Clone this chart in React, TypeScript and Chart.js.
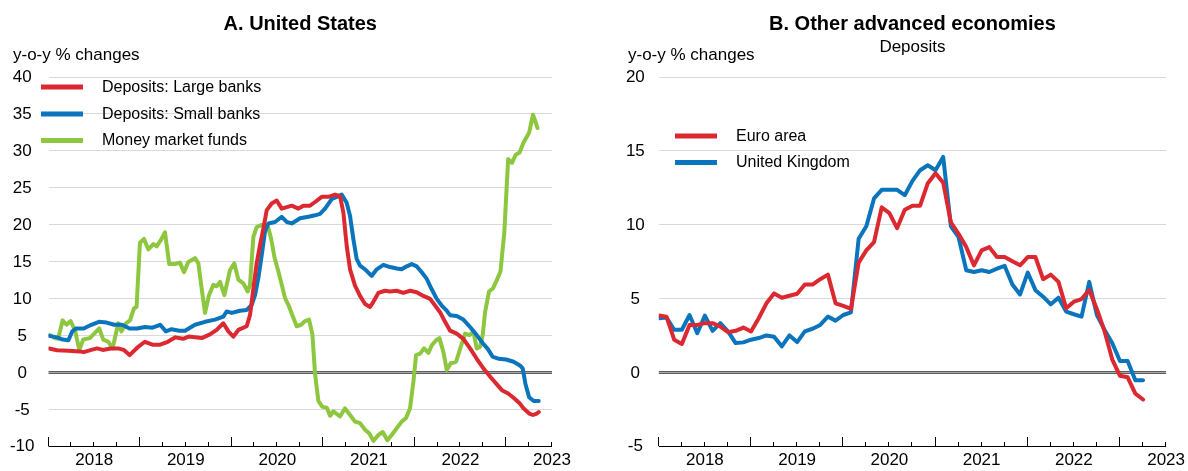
import React, { useEffect, useRef } from 'react';
import { Chart, registerables } from 'chart.js';

Chart.register(...registerables);

const FONT = "'Liberation Sans', Arial, Helvetica, sans-serif";
const RED = '#dc2830';
const BLUE = '#0a74bc';
const GREEN = '#8dc63f';

// ---------- Axis labels ----------
const yearLabels = ['2018', '2019', '2020', '2021', '2022', '2023'];
const yTicksA = [-10, -5, 0, 5, 10, 15, 20, 25, 30, 35, 40];
const yTicksB = [-5, 0, 5, 10, 15, 20];

// ---------- Panel A: United States (decimal-year dates, y-o-y %) ----------
const largeBanksT = [
  2018.008, 2018.092, 2018.217, 2018.343, 2018.384, 2018.468, 2018.53, 2018.593, 2018.677, 2018.76,
  2018.823, 2018.886, 2018.969, 2019.053, 2019.136, 2019.22, 2019.303, 2019.387, 2019.47, 2019.53,
  2019.6, 2019.673, 2019.764, 2019.837, 2019.91, 2019.965, 2020.019, 2020.074, 2020.165, 2020.201,
  2020.238, 2020.274, 2020.311, 2020.347, 2020.384, 2020.438, 2020.493, 2020.548, 2020.602, 2020.657,
  2020.73, 2020.784, 2020.857, 2020.912, 2020.985, 2021.058, 2021.13, 2021.184, 2021.221, 2021.257,
  2021.294, 2021.348, 2021.403, 2021.458, 2021.512, 2021.549, 2021.603, 2021.676, 2021.731, 2021.804,
  2021.876, 2021.949, 2022.022, 2022.095, 2022.168, 2022.223, 2022.277, 2022.332, 2022.387, 2022.459,
  2022.532, 2022.605, 2022.678, 2022.751, 2022.83, 2022.9, 2022.958, 2023.021, 2023.083, 2023.146,
  2023.188, 2023.251, 2023.292, 2023.334, 2023.355,
];
const largeBanksV = [
  3.3, 3.05, 3.0, 2.9, 2.8, 3.1, 3.3, 3.1, 3.3, 3.3,
  3.1, 2.4, 3.4, 4.2, 3.8, 3.8, 4.2, 4.8, 4.6, 4.9,
  4.8, 4.7, 5.2, 5.8, 6.7, 5.6, 4.9, 5.8, 6.3, 7.8,
  11.4, 14.8, 17.3, 19.5, 22.0, 22.9, 23.3, 22.2, 22.4, 22.6,
  22.2, 22.6, 22.6, 23.1, 23.8, 23.8, 24.1, 23.9, 21.7, 17.2,
  14.0, 11.8, 10.4, 9.3, 8.9, 9.6, 10.8, 11.1, 11.0, 11.1,
  10.8, 11.1, 10.9, 10.4, 10.0, 9.1, 8.2, 6.9, 5.7, 5.3,
  4.6, 3.3, 1.9, 0.6, -0.6, -1.6, -2.4, -2.8, -3.4, -4.1,
  -4.8, -5.5, -5.7, -5.5, -5.3,
];

const smallBanksT = [
  2018.008, 2018.092, 2018.155, 2018.217, 2018.259, 2018.301, 2018.384, 2018.468, 2018.551, 2018.635,
  2018.718, 2018.802, 2018.886, 2018.969, 2019.053, 2019.136, 2019.22, 2019.282, 2019.345, 2019.429,
  2019.491, 2019.6, 2019.71, 2019.819, 2019.91, 2019.946, 2020.001, 2020.092, 2020.165, 2020.22,
  2020.256, 2020.292, 2020.329, 2020.365, 2020.402, 2020.475, 2020.548, 2020.602, 2020.657, 2020.748,
  2020.839, 2020.912, 2020.966, 2021.021, 2021.094, 2021.13, 2021.203, 2021.257, 2021.294, 2021.33,
  2021.366, 2021.403, 2021.458, 2021.53, 2021.585, 2021.658, 2021.731, 2021.804, 2021.858, 2021.913,
  2021.968, 2022.022, 2022.077, 2022.132, 2022.186, 2022.241, 2022.295, 2022.35, 2022.387, 2022.459,
  2022.532, 2022.605, 2022.678, 2022.751, 2022.8, 2022.85, 2022.92, 2023.0, 2023.08, 2023.15,
  2023.18, 2023.21, 2023.25, 2023.3, 2023.355,
];
const smallBanksV = [
  5.0, 4.8, 4.5, 4.4, 5.6, 6.0, 6.0, 6.5, 6.9, 6.8,
  6.5, 6.5, 6.0, 6.0, 6.2, 6.1, 6.5, 5.6, 5.9, 5.7,
  5.7, 6.5, 6.9, 7.2, 7.6, 8.3, 8.1, 8.4, 8.5, 9.2,
  10.5, 12.8, 15.9, 19.1, 20.2, 20.4, 21.1, 20.4, 20.2, 20.9,
  21.1, 21.3, 21.5, 22.2, 23.5, 23.7, 24.1, 23.0, 21.2, 18.1,
  15.4, 14.5, 14.0, 13.1, 14.0, 14.6, 14.3, 14.1, 14.0, 14.4,
  14.7, 14.4, 13.6, 12.7, 11.3, 10.0, 9.1, 8.4, 7.8, 7.7,
  7.2, 6.2, 5.1, 3.9, 3.2, 2.2, 1.9, 1.8, 1.5, 1.0,
  0.6, -1.5, -3.3, -3.8, -3.8,
];

const mmfT = [
  2018.015, 2018.07, 2018.106, 2018.154, 2018.197, 2018.241, 2018.289, 2018.336, 2018.38, 2018.452,
  2018.507, 2018.554, 2018.598, 2018.653, 2018.7, 2018.762, 2018.798, 2018.846, 2018.89, 2018.933,
  2018.962, 2018.999, 2019.043, 2019.09, 2019.145, 2019.181, 2019.225, 2019.272, 2019.319, 2019.381,
  2019.436, 2019.48, 2019.527, 2019.6, 2019.637, 2019.673, 2019.71, 2019.753, 2019.801, 2019.837,
  2019.874, 2019.921, 2019.983, 2020.03, 2020.074, 2020.129, 2020.176, 2020.201, 2020.238, 2020.274,
  2020.329, 2020.394, 2020.431, 2020.467, 2020.511, 2020.548, 2020.584, 2020.62, 2020.664, 2020.711,
  2020.759, 2020.803, 2020.846, 2020.883, 2020.912, 2020.948, 2020.992, 2021.039, 2021.076, 2021.112,
  2021.184, 2021.239, 2021.294, 2021.348, 2021.403, 2021.458, 2021.505, 2021.549, 2021.603, 2021.651,
  2021.702, 2021.749, 2021.804, 2021.858, 2021.906, 2021.949, 2021.986, 2022.015, 2022.059, 2022.102,
  2022.15, 2022.186, 2022.233, 2022.27, 2022.314, 2022.35, 2022.394, 2022.452, 2022.503, 2022.551,
  2022.598, 2022.642, 2022.678, 2022.714, 2022.743, 2022.769, 2022.812, 2022.854, 2022.896, 2022.937,
  2022.979, 2023.021, 2023.063, 2023.104, 2023.146, 2023.188, 2023.251, 2023.292, 2023.313, 2023.342,
];
const mmfV = [
  5.1, 4.7, 4.6, 7.1, 6.5, 7.0, 5.8, 3.1, 4.5, 4.7,
  5.4, 6.0, 4.5, 4.2, 3.3, 6.7, 5.6, 6.7, 7.1, 8.7,
  8.9, 17.6, 18.1, 16.7, 17.4, 17.1, 17.9, 19.0, 14.7, 14.7,
  14.9, 13.6, 15.0, 15.5, 14.8, 11.4, 8.1, 10.5, 11.9, 11.7,
  12.3, 10.5, 13.9, 14.8, 12.6, 12.1, 11.0, 11.9, 18.4, 19.7,
  20.0, 19.9, 18.2, 15.7, 13.7, 11.9, 10.1, 9.2, 7.8, 6.3,
  6.5, 7.0, 7.2, 5.2, -0.2, -3.8, -4.6, -4.7, -5.8, -5.2,
  -5.9, -4.8, -5.7, -6.6, -6.8, -7.7, -8.2, -9.2, -8.4, -8.0,
  -9.1, -8.4, -7.5, -6.6, -6.1, -4.8, -1.2, 2.4, 2.6, 3.3,
  2.7, 3.7, 4.4, 4.7, 2.8, 0.4, 1.3, 1.5, 3.5, 5.3,
  5.1, 5.5, 3.3, 3.5, 5.1, 8.2, 11.0, 11.4, 12.5, 13.7,
  19.0, 28.9, 28.4, 29.5, 29.8, 31.1, 32.5, 34.9, 34.2, 33.1,
];

// ---------- Panel B: Other advanced economies (monthly, Jan 2018 onwards) ----------
const euroArea = [
  3.87, 3.8, 2.24, 1.95, 3.24, 3.24, 3.36, 3.36, 3.13, 2.75, 2.84, 3.06,
  2.8, 3.69, 4.7, 5.37, 5.08, 5.21, 5.35, 5.97, 5.97, 6.33, 6.64, 4.7,
  4.52, 4.32, 7.45, 8.28, 8.84, 11.19, 10.8, 9.78, 11.03, 11.3, 11.3, 12.82,
  13.49, 12.86, 10.18, 9.4, 8.5, 7.27, 8.28, 8.5, 7.83, 7.83, 7.54, 7.27,
  7.83, 7.83, 6.33, 6.64, 6.15, 4.36, 4.81, 4.99, 5.6, 4.3, 2.8, 0.9,
  -0.2, -0.3, -1.4, -1.8,
];
const unitedKingdom = [
  3.69, 3.74, 2.91, 2.91, 3.91, 2.68, 3.87, 2.84, 3.36, 2.8, 2.01, 2.06,
  2.24, 2.35, 2.53, 2.44, 1.79, 2.53, 2.08, 2.8, 2.98, 3.24, 3.8, 3.53,
  3.91, 4.09, 9.06, 9.91, 11.79, 12.37, 12.37, 12.37, 12.01, 12.98, 13.7, 14.03,
  13.7, 14.6, 9.91, 9.17, 6.94, 6.82, 6.94, 6.82, 7.05, 7.23, 5.97, 5.3,
  6.78, 5.59, 5.15, 4.63, 5.08, 4.14, 3.96, 3.8, 6.15, 3.9, 2.9, 2.0,
  0.8, 0.8, -0.5, -0.5,
];

// quarterly tick positions from the year labels
const quarterTicks: number[] = [];
yearLabels.forEach((y) => {
  const yr = Number(y);
  [0, 0.25, 0.5, 0.75].forEach((q) => {
    if (yr + q <= 2023.5) quarterTicks.push(yr + q);
  });
});

const zip = (t: number[], v: number[]) => t.map((x, i) => ({ x, y: v[i] }));
const monthly = (v: number[]) => v.map((y, i) => ({ x: 2018 + i / 12, y }));

type Spec = {
  width: number;
  areaLeft: number;
  areaRight: number;
  yMin: number;
  yMax: number;
  yTicks: number[];
  title: string;
  subtitle?: string;
  unitX: number;
  legendX0: number;
  legendY: number[];
  datasets: any[];
};

function makeOverlay(spec: Spec) {
  return {
    id: 'overlay',
    beforeDatasetsDraw(chart: any) {
      const { ctx, chartArea: a, scales } = chart;
      const y0 = Math.round(scales.y.getPixelForValue(0));
      ctx.save();
      ctx.fillStyle = '#5e5e5e';
      ctx.fillRect(a.left, y0 - 2, a.right - a.left, 1);
      ctx.fillStyle = '#a8a8a8';
      ctx.fillRect(a.left, y0 - 1, a.right - a.left, 1);
      ctx.fillStyle = '#5e5e5e';
      ctx.fillRect(a.left, y0, a.right - a.left, 1);
      ctx.restore();
    },
    afterDraw(chart: any) {
      const { ctx, chartArea: a, scales } = chart;
      const xs = scales.x;
      ctx.save();
      // x axis line and inward ticks
      const by = Math.round(a.bottom);
      ctx.fillStyle = '#000';
      ctx.fillRect(a.left, by - 1, a.right - a.left, 1);
      xs.ticks.forEach((t: any) => {
        const px = Math.round(xs.getPixelForValue(t.value));
        const major = Math.abs(t.value - Math.round(t.value)) < 1e-6;
        const len = major ? 9 : 4;
        ctx.fillRect(px - 1, by - 1 - len, 1, len);
      });
      // titles
      const cx = (a.left + a.right) / 2;
      ctx.fillStyle = '#000';
      ctx.textAlign = 'center';
      ctx.textBaseline = 'alphabetic';
      ctx.font = `bold 20px ${FONT}`;
      ctx.fillText(spec.title, cx, 29.5);
      if (spec.subtitle) {
        ctx.font = `17px ${FONT}`;
        ctx.fillText(spec.subtitle, cx, 51.5);
      }
      ctx.textAlign = 'left';
      ctx.font = `17px ${FONT}`;
      ctx.fillText('y-o-y % changes', spec.unitX, 59.5);
      // legend
      ctx.font = `16px ${FONT}`;
      ctx.textBaseline = 'middle';
      chart.data.datasets.forEach((ds: any, i: number) => {
        const ly = spec.legendY[i];
        ctx.fillStyle = ds.borderColor;
        ctx.fillRect(spec.legendX0, ly - 2.5, 42, 5);
        ctx.fillStyle = '#000';
        ctx.fillText(ds.label, spec.legendX0 + 61, ly + 0.5);
      });
      ctx.restore();
    },
  };
}

function buildConfig(spec: Spec): any {
  return {
    type: 'line',
    data: { datasets: spec.datasets },
    plugins: [makeOverlay(spec)],
    options: {
      responsive: false,
      animation: false,
      devicePixelRatio: 1,
      layout: { padding: { top: 77, left: 0, right: spec.width - spec.areaRight, bottom: 0 } },
      elements: {
        point: { radius: 0 },
        line: { borderWidth: 4, tension: 0, borderJoinStyle: 'round', borderCapStyle: 'round' },
      },
      plugins: { legend: { display: false }, tooltip: { enabled: false }, title: { display: false } },
      scales: {
        x: {
          type: 'linear',
          min: 2018,
          max: 2023.5,
          afterBuildTicks: (s: any) => {
            s.ticks = quarterTicks.map((v) => ({ value: v }));
          },
          afterFit: (s: any) => {
            s.height = 21.5;
          },
          grid: { display: false, drawTicks: false },
          border: { display: false },
          ticks: {
            autoSkip: false,
            maxRotation: 0,
            minRotation: 0,
            padding: 3,
            color: '#000',
            font: { size: 17, family: FONT },
            callback: (value: any) => {
              const v = Number(value);
              const fr = v - Math.floor(v);
              return Math.abs(fr - 0.5) < 1e-6 ? yearLabels[Math.floor(v) - 2018] : '';
            },
          },
        },
        y: {
          min: spec.yMin,
          max: spec.yMax,
          afterBuildTicks: (s: any) => {
            s.ticks = spec.yTicks.map((v) => ({ value: v }));
          },
          afterFit: (s: any) => {
            s.width = spec.areaLeft;
          },
          grid: {
            drawTicks: false,
            lineWidth: 1,
            color: (c: any) =>
              c.tick && (c.tick.value === 0 || c.tick.value === spec.yMin) ? 'rgba(0,0,0,0)' : '#d9d9d9',
          },
          border: { display: false },
          ticks: { crossAlign: 'center', padding: 14, color: '#000', font: { size: 17, family: FONT } },
        },
      },
    },
  };
}

const specA: Spec = {
  width: 600,
  areaLeft: 48.5,
  areaRight: 552,
  yMin: -10,
  yMax: 40,
  yTicks: yTicksA,
  title: 'A. United States',
  unitX: 13,
  legendX0: 41,
  legendY: [87, 114, 140.5],
  datasets: [
    { label: 'Deposits: Large banks', data: zip(largeBanksT, largeBanksV), borderColor: RED, backgroundColor: RED },
    { label: 'Deposits: Small banks', data: zip(smallBanksT, smallBanksV), borderColor: BLUE, backgroundColor: BLUE },
    { label: 'Money market funds', data: zip(mmfT, mmfV), borderColor: GREEN, backgroundColor: GREEN },
  ],
};

const specB: Spec = {
  width: 588,
  areaLeft: 58.8,
  areaRight: 568,
  yMin: -5,
  yMax: 20,
  yTicks: yTicksB,
  title: 'B. Other advanced economies',
  subtitle: 'Deposits',
  unitX: 28,
  legendX0: 75,
  legendY: [136, 162.5],
  datasets: [
    { label: 'Euro area', data: monthly(euroArea), borderColor: RED, backgroundColor: RED },
    { label: 'United Kingdom', data: monthly(unitedKingdom), borderColor: BLUE, backgroundColor: BLUE },
  ],
};

function Panel({ spec, left }: { spec: Spec; left: number }) {
  const ref = useRef<HTMLCanvasElement>(null);
  useEffect(() => {
    if (!ref.current) return;
    const chart = new Chart(ref.current, buildConfig(spec));
    return () => chart.destroy();
  }, [spec]);
  return (
    <canvas
      ref={ref}
      width={spec.width}
      height={471}
      style={{ position: 'absolute', left, top: 0, width: spec.width, height: 471, display: 'block' }}
    />
  );
}

export default function App() {
  return (
    <div style={{ position: 'fixed', left: 0, top: 0, width: 1188, height: 471, background: '#fff', overflow: 'hidden' }}>
      <Panel spec={specA} left={0} />
      <Panel spec={specB} left={600} />
    </div>
  );
}
